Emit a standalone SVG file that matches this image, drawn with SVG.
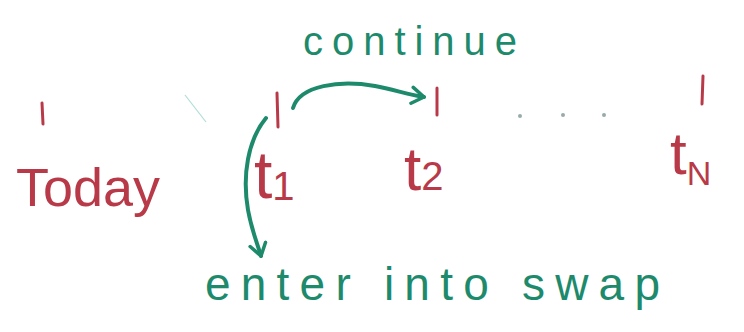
<svg xmlns="http://www.w3.org/2000/svg" width="744" height="332" viewBox="0 0 744 332">
<style>
.red{fill:#b83a48;font-family:"Liberation Sans","DejaVu Sans",sans-serif}
.grn{fill:#1e8a6c;font-family:"Liberation Sans","DejaVu Sans",sans-serif}
.tick{stroke:#b83a48;stroke-width:3;stroke-linecap:round}
.conn{fill:none;stroke:#1e8a6c;stroke-width:4;stroke-linecap:round;stroke-linejoin:round}
</style>
<defs>
<marker id="ah" markerWidth="22" markerHeight="22" refX="14" refY="10" orient="auto" markerUnits="userSpaceOnUse">
<path d="M2,2 L14,10 L2,18" fill="none" stroke="#1e8a6c" stroke-width="3.5" stroke-linecap="round" stroke-linejoin="round"/>
</marker>
</defs>
<rect width="744" height="332" fill="#ffffff"/>
<g id="today">
<line class="tick" x1="42" y1="103" x2="43" y2="124"/>
<text class="red" x="16" y="206" font-size="54" textLength="144" lengthAdjust="spacingAndGlyphs">Today</text>
</g>
<g id="t1">
<line class="tick" x1="277" y1="93" x2="278" y2="127"/>
<text class="red" x="254" y="198" font-size="66">t<tspan font-size="40" dy="2">1</tspan></text>
</g>
<g id="t2">
<line class="tick" x1="437" y1="88" x2="437" y2="115"/>
<text class="red" x="404" y="190" font-size="62">t<tspan font-size="40" dy="0">2</tspan></text>
</g>
<g id="dots">
<circle cx="520" cy="116" r="2" fill="#9aa"/>
<circle cx="563" cy="115" r="2" fill="#9aa"/>
<circle cx="604" cy="115" r="2" fill="#9aa"/>
</g>
<g id="tN">
<line class="tick" x1="703" y1="76" x2="702" y2="104"/>
<text class="red" x="670" y="174" font-size="60">t<tspan font-size="34" dy="11">N</tspan></text>
</g>
<g id="connectors">
<path class="conn" d="M293,108 C300,85 340,80 375,86 C395,90 410,95 424,97" marker-end="url(#ah)"/>
<path class="conn" d="M266,118 C248,140 242,175 248,210 C252,232 258,245 261,256" marker-end="url(#ah)"/>
<line x1="185" y1="95" x2="206" y2="122" stroke="#7cc8c0" stroke-width="1.2" opacity="0.6"/>
</g>
<g id="label-continue">
<text class="grn" x="303" y="55" font-size="40" textLength="214" lengthAdjust="spacing">continue</text>
</g>
<g id="label-swap">
<text class="grn" x="205" y="300" font-size="46" textLength="455" lengthAdjust="spacing">enter into swap</text>
</g>
</svg>
